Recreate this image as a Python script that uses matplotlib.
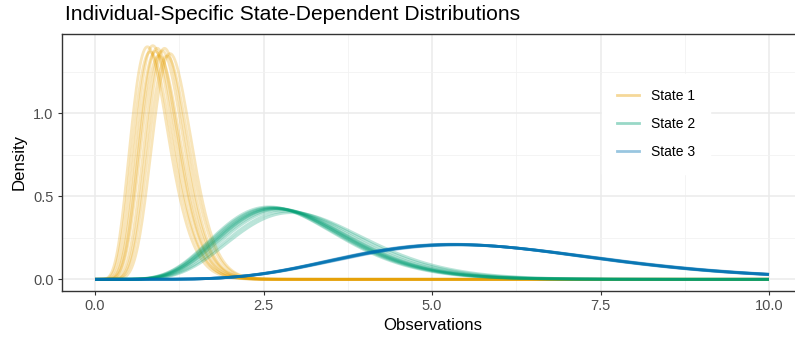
import math
import numpy as np
import matplotlib
matplotlib.use("Agg")
import matplotlib.pyplot as plt
from matplotlib.lines import Line2D

# Per-individual state-dependent gamma distributions (mean, sd)
state1_means = [0.88, 0.92, 0.95, 0.99, 1.01, 1.04, 1.08, 1.11, 1.15, 1.19]
state1_sds = [0.300, 0.306, 0.296, 0.303, 0.298, 0.308, 0.300, 0.296, 0.306, 0.302]
state2_means = [2.90, 2.93, 2.96, 2.98, 3.00, 3.02, 3.05, 3.10, 3.18, 3.25]
state2_sds = [0.96, 0.97, 0.97, 0.98, 0.98, 0.98, 0.99, 1.00, 1.02, 1.04]
state3_means = [5.95, 5.97, 5.99, 6.00, 6.00, 6.01, 6.02, 6.03, 6.05, 6.08]
state3_sds = [1.98, 1.99, 2.00, 2.00, 2.00, 2.00, 2.01, 2.01, 2.02, 2.03]

state_labels = ["State 1", "State 2", "State 3"]
state_colors = ["#E69F00", "#009E73", "#0072B2"]
x_ticks = [0.0, 2.5, 5.0, 7.5, 10.0]
y_ticks = [0.0, 0.5, 1.0]


def gamma_pdf(x, mean, sd):
    k = (mean / sd) ** 2
    theta = sd ** 2 / mean
    out = np.zeros_like(x)
    pos = x > 0
    xp = x[pos]
    out[pos] = np.exp((k - 1) * np.log(xp) - xp / theta - math.lgamma(k) - k * math.log(theta))
    return out


xs = np.linspace(0, 10, 600)

plt.rcParams['font.family'] = ['Liberation Sans', 'DejaVu Sans']
fig = plt.figure(figsize=(7.95, 3.38), dpi=100)
W, H = 795, 338
px_per_x = 67.4
left_px, top_px, bot_px = 62, 34, 291
x0_px = 95
xmin = -(x0_px - left_px) / px_per_x
xmax = 10.5
right_px = x0_px + xmax * px_per_x
ax = fig.add_axes([left_px / W, 1 - bot_px / H, (right_px - left_px) / W, (bot_px - top_px) / H])

groups = [(state1_means, state1_sds), (state2_means, state2_sds), (state3_means, state3_sds)]
ymax_val = 0
for (means, sds), col in zip(groups, state_colors):
    for m, s in zip(means, sds):
        y = gamma_pdf(xs, m, s)
        ymax_val = max(ymax_val, y.max())
        ax.plot(xs, y, color=col, alpha=0.27, lw=2.0, solid_capstyle='butt', zorder=3)

pad = 0.05 * ymax_val
ax.set_ylim(-pad, ymax_val + pad)
ax.set_xlim(xmin, xmax)

ax.set_xticks(x_ticks)
ax.set_xticklabels(["0.0", "2.5", "5.0", "7.5", "10.0"])
ax.set_yticks(y_ticks)
ax.set_yticklabels(["0.0", "0.5", "1.0"])
ax.set_xticks([1.25, 3.75, 6.25, 8.75], minor=True)
ax.set_yticks([0.25, 0.75, 1.25], minor=True)
ax.grid(which='major', color='#EBEBEB', lw=1.1, zorder=0)
ax.grid(which='minor', color='#F2F2F2', lw=0.6, zorder=0)
ax.set_axisbelow(True)
ax.tick_params(which='major', length=3, width=0.8, color='#333333', labelcolor='#4D4D4D', labelsize=10.5, pad=3)
ax.tick_params(which='minor', length=0)
for sp in ax.spines.values():
    sp.set_color('#333333')
    sp.set_linewidth(1.0)

ax.set_xlabel("Observations", fontsize=12.1, labelpad=3)
ax.set_ylabel("Density", fontsize=12.1, labelpad=5)
fig.text(65 / W, 1 - 14 / H, "Individual-Specific State-Dependent Distributions",
         fontsize=15.1, ha='left', va='center')

handles = [Line2D([0], [0], color=c, alpha=0.4, lw=2.0) for c in state_colors]
leg = ax.legend(handles, state_labels, loc='upper left',
                bbox_to_anchor=((602 - left_px) / (right_px - left_px), 1 - (74 - top_px) / (bot_px - top_px)),
                frameon=True, fontsize=10, handlelength=1.55, handletextpad=0.85,
                labelspacing=1.0, borderpad=1.1, borderaxespad=0)
leg.get_frame().set_edgecolor('white')
leg.get_frame().set_facecolor('white')
leg.get_frame().set_alpha(1)
leg.get_frame().set_boxstyle('square', pad=0)

fig.savefig("out.png", dpi=100)
